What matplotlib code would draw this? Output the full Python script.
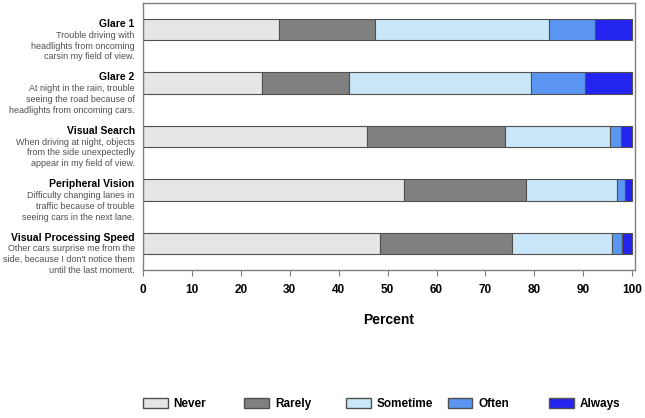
import numpy as np
import matplotlib
matplotlib.use("Agg")
import matplotlib.pyplot as plt
from matplotlib.patches import Patch

plt.rcParams['font.family'] = ['Liberation Sans', 'DejaVu Sans']

# data (percent)
items = ["Glare 1", "Glare 2", "Visual Search", "Peripheral Vision",
         "Visual Processing Speed"]
descriptions = [
    "Trouble driving with\nheadlights from oncoming\ncarsin my field of view.",
    "At night in the rain, trouble\nseeing the road because of\nheadlights from oncoming cars.",
    "When driving at night, objects\nfrom the side unexpectedly\nappear in my field of view.",
    "Difficulty changing lanes in\ntraffic because of trouble\nseeing cars in the next lane.",
    "Other cars surprise me from the\nside, because I don't notice them\nuntil the last moment.",
]
categories = ["Never", "Rarely", "Sometime", "Often", "Always"]
never = [27.8, 24.3, 45.8, 53.3, 48.5]
rarely = [19.6, 17.9, 28.2, 25.0, 27.0]
sometime = [35.5, 37.2, 21.4, 18.6, 20.3]
often = [9.5, 10.9, 2.4, 1.7, 2.1]
always = [7.6, 9.7, 2.2, 1.4, 2.1]

colors = ["#e6e6e6", "#808080", "#c9e7f8", "#5b95f2", "#2424f0"]
series = [never, rarely, sometime, often, always]

fig = plt.figure(figsize=(6.45, 4.18), dpi=100)
ax = fig.add_axes([0.2217, 0.354, 0.763, 0.639])

y = np.arange(len(items))
left = np.zeros(len(items))
for vals, c in zip(series, colors):
    ax.barh(y, vals, left=left, height=0.4, color=c, edgecolor="#505050",
            linewidth=0.8)
    left += np.array(vals)

ax.set_xlim(0, 100.6)
ax.set_ylim(4.5, -0.5)
ax.set_yticks([])
ax.set_xticks(np.arange(0, 101, 10))
ax.tick_params(axis="x", direction="out", length=4, color="#808080",
               labelsize=8.5, pad=6)
for lab in ax.get_xticklabels():
    lab.set_fontweight("bold")
for s in ax.spines.values():
    s.set_color("#808080")
    s.set_linewidth(1.0)
ax.set_xlabel("Percent", fontsize=10, fontweight="bold", labelpad=12)

# row labels on the left
for i, (name, desc) in enumerate(zip(items, descriptions)):
    ax.annotate(name, xy=(0, i - 0.2), xycoords=("axes fraction", "data"),
                xytext=(-6, 0), textcoords="offset points",
                ha="right", va="top", fontsize=7.5, fontweight="bold")
    ax.annotate(desc, xy=(0, i - 0.2), xycoords=("axes fraction", "data"),
                xytext=(-6, -8.5), textcoords="offset points",
                ha="right", va="top", fontsize=6.5, color="#505050",
                linespacing=1.25)

# legend: one entry per fixed-width slot
for k, (c, n) in enumerate(zip(colors, categories)):
    h = Patch(facecolor=c, edgecolor="#505050", label=n)
    fig.legend(handles=[h], loc="center left",
               bbox_to_anchor=(0.2215 + k * 0.1575, 0.033), frameon=False,
               handlelength=2.1, handleheight=0.85, handletextpad=0.5,
               borderaxespad=0, borderpad=0,
               prop={"size": 8.5, "weight": "bold"})

fig.savefig("out.png", dpi=100)
